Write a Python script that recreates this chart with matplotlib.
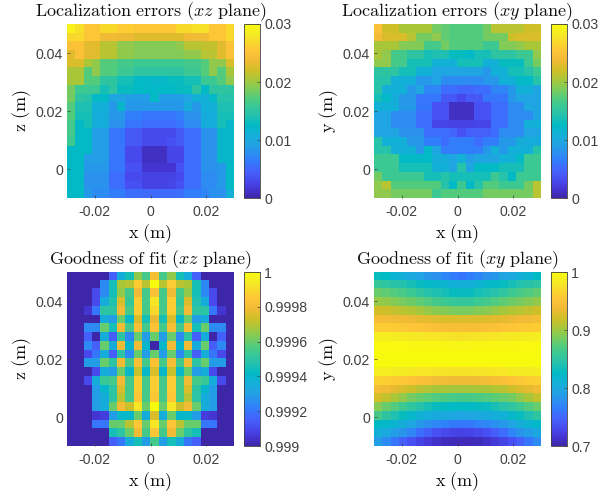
import matplotlib
matplotlib.use('Agg')
import numpy as np
import matplotlib.pyplot as plt
from matplotlib.colors import LinearSegmentedColormap

# errors in mm, rows listed top to bottom
err_xz = [
    [29, 27.5, 25.5, 25.5, 27, 27, 26, 26, 25.5, 25.5, 25.5, 25.5, 25.5, 27, 27, 27.5, 27.5, 25.5, 25.5, 27],
    [27, 27, 25.5, 25.5, 24, 24, 23.5, 23.5, 22.8, 22.8, 22.8, 22.8, 22.8, 22.8, 24, 24, 24, 25.5, 25.5, 27],
    [25, 25, 23, 23, 21, 21, 19.5, 19.5, 19, 19, 19, 19, 19, 19.5, 21, 21, 21.5, 21.5, 23, 25],
    [23, 25, 23, 23, 21, 21, 19.5, 19.5, 19, 19, 19, 19, 19, 19, 19.5, 19.5, 21, 21, 23, 25],
    [22.5, 22.5, 20.5, 19.5, 17.2, 17.2, 16.5, 16.5, 16, 16, 16, 16, 16, 16, 16.5, 16.5, 17.2, 19.5, 19.5, 22.5],
    [20.5, 20.5, 17.2, 19.5, 17.2, 17.2, 16, 16, 15, 15, 15, 15, 15, 15, 16, 16, 17.2, 19.5, 17.2, 20.5],
    [20.5, 20.5, 17.2, 17.2, 15, 15, 13.5, 13.5, 12.5, 12.5, 12, 12, 13, 13, 13.5, 13.5, 16, 16, 17.2, 19.5],
    [18.5, 16, 16, 16, 13.5, 15, 13, 13, 12.5, 12.5, 12.5, 12.5, 12.5, 13, 13, 15, 12.5, 15, 15, 15],
    [18.5, 15, 14.5, 12.5, 12.5, 9.5, 9.5, 9, 9, 9, 12.5, 9, 9, 9, 9.5, 11, 11, 12.5, 14.5, 14.5],
    [17.2, 14, 14, 11, 11, 8.5, 12, 8.5, 8.5, 8.5, 8.5, 8.5, 8.5, 8.5, 10.5, 8.5, 11, 11, 14, 14],
    [17.2, 13.5, 13.5, 10.5, 10.5, 8.5, 8.5, 6.5, 6.5, 6, 6, 6, 6, 6.5, 8, 8, 10.5, 10.5, 13.5, 13.5],
    [16.5, 12.5, 13.5, 10.5, 10.5, 8, 8, 6, 6, 5.5, 5.5, 5.5, 5.5, 6, 7.5, 7.5, 10.5, 10.5, 13.5, 12],
    [16.5, 12.5, 12.5, 9, 9, 6, 6, 4, 4, 3, 3, 3, 3, 4, 5.5, 5.5, 8, 8, 12, 12],
    [16, 12.5, 12.5, 9, 9, 6, 6, 4, 4, 3, 3, 3, 3.4, 4, 5.5, 5.5, 8, 8, 12, 12],
    [12.5, 12.5, 12.5, 9, 9, 6, 6, 3, 3, 1, 1, 1, 2.8, 2.8, 5.5, 5.5, 8, 8, 12, 12],
    [12.5, 12.5, 9, 9, 9, 6, 6, 3, 3, 1, 1, 1, 2.8, 2.8, 5.5, 5.5, 8, 8, 12, 12],
    [12.5, 12.5, 8.5, 8.5, 8.5, 6, 6, 3.4, 3.4, 1.5, 1.5, 1.5, 1.5, 3.4, 5.5, 5.5, 8, 8, 8.5, 12.5],
    [12.5, 12.5, 8, 8, 8, 5.5, 5.5, 3, 3, 2.5, 2.5, 2.5, 2.5, 3, 5.5, 5.5, 7.5, 7.5, 8.5, 12.5],
    [12.5, 12.5, 8, 8, 8, 5.5, 5.5, 3.4, 3.4, 2.5, 2.5, 2.5, 2.8, 3.4, 5.5, 5.5, 7.5, 7.5, 8.5, 12.5],
    [12.5, 12.5, 8.5, 7.5, 7.5, 6.5, 6.5, 5.5, 5.5, 5.3, 5.3, 5.3, 5.3, 5.5, 6.5, 6.5, 7, 8, 8, 11],
]

err_xy = [
    [25, 22, 22, 20.5, 20.5, 20.5, 20.5, 18.5, 17.8, 17.2, 17.2, 17.2, 17.2, 18.5, 21, 21, 21, 21, 22, 22],
    [24, 22.5, 22.5, 22.5, 21, 18.5, 18.5, 19.5, 17.8, 17.2, 17.2, 17.2, 17.2, 18.5, 18.5, 18.5, 22, 22.5, 22.5, 22.5],
    [20.5, 20.5, 20.5, 19, 19, 19, 16.5, 16.5, 18.5, 17.2, 17.2, 17.2, 17.2, 16, 16, 19, 19, 19.5, 20.5, 20.5],
    [20.5, 19.5, 16.5, 16.5, 15, 15, 13.5, 14, 14, 13, 13, 12.5, 13.5, 13.5, 15, 15, 15, 16, 16, 19.5],
    [19.5, 19.5, 16.5, 16.5, 13.5, 13.5, 13.5, 11, 11, 11, 13.5, 13.5, 13.5, 11, 11, 13, 13, 13, 16, 18.5],
    [15, 15, 15, 13.5, 13.5, 11, 11, 9.5, 9.5, 9.5, 9.5, 9.5, 9.5, 8.5, 11, 11, 13.5, 13.5, 14.5, 16],
    [14.5, 14.5, 11, 11, 11, 8.5, 8.5, 9.5, 7.5, 7.5, 7.5, 7.5, 7.5, 8.5, 8.5, 11, 11, 12.5, 12.5, 14.5],
    [14.5, 11, 11, 11, 8.5, 9.5, 7, 7, 5.5, 5.5, 5, 5, 5.5, 5.5, 7, 7, 8.5, 11, 11, 9.5],
    [13.5, 12.5, 10.5, 8.5, 8.5, 6, 6, 6, 4, 4, 3, 4, 4, 6, 6, 6, 8.5, 9.5, 9.5, 9.5],
    [11, 11, 11, 8.5, 8.5, 6, 6, 3.4, 3.4, 1, 1, 1, 3.4, 3.4, 5.5, 5.5, 7.5, 7.5, 9.5, 9.5],
    [9.5, 9.5, 7.5, 7.5, 7.5, 5.5, 5.5, 3.4, 3.4, 1, 1, 1, 3.4, 3.4, 5.5, 5.5, 7.5, 7.5, 7.5, 9.5],
    [9.5, 9.5, 7.5, 7.5, 7.5, 5.5, 5.5, 2.8, 2.8, 2.5, 2.5, 2.5, 2.8, 2.8, 5.5, 5.5, 7.5, 7.5, 11, 11],
    [9.5, 9.5, 9.5, 8, 8, 8, 5.5, 5.5, 5.5, 5, 3.4, 4.5, 4.5, 4.5, 5.5, 7.5, 7.5, 7.5, 9.5, 9.5],
    [14.5, 11, 11, 11, 8.5, 8.5, 6.5, 6.5, 5.5, 6.5, 6.5, 6.5, 5.5, 6.5, 6.5, 8.5, 8.5, 10.5, 10.5, 10.5],
    [14.5, 14.5, 11, 11, 11, 8.5, 12.5, 9.5, 6.5, 6.5, 6.5, 6.5, 6.5, 8.5, 11, 8.5, 11, 11, 11, 14.5],
    [16, 16, 16, 12.5, 12.5, 12.5, 12.5, 10.5, 10.5, 9.5, 11, 9, 9.5, 9.5, 9.5, 11, 11, 12.5, 16, 16],
    [16, 16, 16, 13.5, 13.5, 13.5, 13.5, 11, 11, 9.5, 14.5, 9.5, 12.5, 12.5, 12.5, 13.5, 13.5, 13.5, 16, 16],
    [18.5, 16, 16, 16, 16, 16, 13.5, 13.5, 14.5, 13.5, 13.5, 13.5, 13.5, 13.5, 16, 14.5, 12.5, 16, 16, 16],
    [19.5, 21, 17.2, 17.2, 17.2, 17.2, 17.2, 17.2, 14.5, 12.5, 16, 12.5, 14.5, 17.2, 17.2, 16, 16, 16, 18.5, 21],
    [19.5, 19.5, 18.5, 18.5, 18.5, 18.5, 18.5, 16, 17.2, 17.2, 17.2, 17.2, 17.2, 18.5, 18.5, 18.5, 18.5, 18.5, 18.5, 21],
]

# goodness of fit above 0.999, in units of 1e-4
fit_xz = [
    [0, 0, 0, 0, 0, 1.5, 3.5, 4.5, 6.5, 5.5, 8.2, 5.5, 6.5, 4.5, 3.5, 1.5, 0, 0, 0, 0],
    [0, 0, 0, 0, 2.5, 4.5, 6.8, 7, 8.7, 7, 10, 7, 8.7, 7, 6.8, 4.5, 2.5, 0, 0, 0],
    [0, 0, 0, 1, 2.5, 4.5, 6.5, 5.5, 8, 5.5, 8.3, 5.5, 8, 5.5, 6.5, 4.5, 2.5, 1, 0, 0],
    [0, 0, 0, 1, 3.5, 4.7, 7.5, 5.2, 8.7, 5.5, 9.3, 5.5, 8.7, 5.2, 7.5, 4.7, 3.5, 1, 0, 0],
    [0, 0, 0.5, 2, 5, 5, 8, 5.5, 8.7, 5.5, 9, 5.5, 8.7, 5.5, 8, 5, 5, 2, 0.5, 0],
    [0, 0, 0, 0, 3.5, 3, 6, 4, 7.5, 4.5, 7.8, 4.5, 7.5, 4, 6, 3, 3.5, 0, 0, 0],
    [0, 0, 2.5, 2.5, 6, 4.5, 8, 5.5, 8.2, 5.5, 8.3, 5.5, 8.2, 5.5, 8, 4.5, 6, 2.5, 2.5, 0],
    [0, 0, 1.5, 0, 3.5, 1.5, 5, 2.5, 6, 3, 6, 3, 6, 2.5, 5, 1.5, 3.5, 0, 1.5, 0],
    [0, 0, 2.5, 1.5, 6, 3.5, 8, 4, 8, 4, 0, 4, 8, 4, 8, 3.5, 6, 1.5, 2.5, 0],
    [0, 0, 1, 2, 3.5, 1.5, 5, 2.5, 6, 3, 6, 3, 6, 2.5, 5, 1.5, 3.5, 2, 1, 0],
    [0, 0, 3, 3, 6, 5, 8, 5.5, 8.2, 5.5, 8.3, 5.5, 8.2, 5.5, 8, 5, 6, 3, 3, 0],
    [0, 0, 0, 1, 3.5, 3, 6, 4, 7.2, 4, 7.5, 4, 7.2, 4, 6, 3, 3.5, 1, 0, 0],
    [0, 0, 1, 3.5, 5.3, 5.5, 8, 5.5, 8.7, 5.5, 8.7, 5.5, 8.7, 5.5, 8, 5.5, 5.3, 3.5, 1, 0],
    [0, 0, 0, 3, 4, 5, 7.5, 5.5, 8.7, 5.5, 8.7, 5.5, 8.7, 5.5, 7.5, 5, 4, 3, 0, 0],
    [0, 0, 0, 3, 3.5, 5, 7, 5.5, 8.5, 5.5, 8.5, 5.5, 8.5, 5.5, 7, 5, 3.5, 3, 0, 0],
    [0, 0, 0, 3, 3.5, 6, 8, 7.3, 9.3, 6, 10, 6, 9.3, 7.3, 8, 6, 3.5, 3, 0, 0],
    [0, 0, 0, 0.5, 0.7, 3, 4, 4, 6, 3.5, 7.5, 3.5, 6, 4, 4, 3, 0.7, 0.5, 0, 0],
    [0, 0, 0, 2, 2, 6, 6, 7, 8.5, 6, 9.3, 6, 8.5, 7, 6, 6, 2, 2, 0, 0],
    [0, 0, 0, 0, 0, 4.5, 5, 6, 8, 5.5, 8.5, 5.5, 8, 6, 5, 4.5, 0, 0, 0, 0],
    [0, 0, 0, 0, 0, 1.5, 2, 3.5, 4.5, 3, 5.5, 3, 4.5, 3.5, 2, 1.5, 0, 0, 0, 0],
]

fit_xy = [
    [.829, .826, .815, .808, .800, .795, .785, .780, .772, .765, .760, .765, .772, .780, .785, .795, .800, .808, .815, .826],
    [.856, .852, .846, .842, .836, .830, .824, .820, .815, .810, .808, .810, .815, .820, .824, .830, .836, .842, .846, .852],
    [.880, .876, .870, .866, .860, .852, .845, .840, .835, .830, .829, .830, .835, .840, .845, .852, .860, .866, .870, .876],
    [.898, .896, .890, .886, .882, .876, .870, .865, .860, .857, .856, .857, .860, .865, .870, .876, .882, .886, .890, .896],
    [.922, .920, .915, .912, .908, .903, .898, .893, .890, .887, .886, .887, .890, .893, .898, .903, .908, .912, .915, .920],
    [.943, .942, .940, .938, .935, .932, .930, .928, .926, .925, .925, .925, .926, .928, .930, .932, .935, .938, .940, .942],
    [.961, .960, .958, .956, .954, .952, .950, .948, .947, .946, .946, .946, .947, .948, .950, .952, .954, .956, .958, .960],
    [.985, .985, .984, .983, .982, .981, .980, .979, .978, .977, .976, .977, .978, .979, .980, .981, .982, .983, .984, .985],
    [.997, .997, .997, .997, .996, .996, .996, .996, .996, .995, .995, .995, .996, .996, .996, .996, .996, .997, .997, .997],
    [1, 1, 1, 1, 1, 1, .999, .999, .999, .999, .999, .999, .999, .999, .999, 1, 1, 1, 1, 1],
    [1, 1, 1, 1, 1, 1, .999, .999, .999, .999, .999, .999, .999, .999, .999, 1, 1, 1, 1, 1],
    [.985, .985, .984, .983, .982, .980, .979, .978, .978, .977, .977, .977, .978, .978, .979, .980, .982, .983, .984, .985],
    [.964, .962, .960, .956, .952, .948, .945, .942, .941, .940, .940, .940, .941, .942, .945, .948, .952, .956, .960, .962],
    [.943, .940, .932, .925, .918, .912, .908, .905, .904, .903, .903, .903, .904, .905, .908, .912, .918, .925, .932, .940],
    [.922, .915, .905, .895, .885, .880, .875, .870, .868, .866, .865, .866, .868, .870, .875, .880, .885, .895, .905, .915],
    [.892, .880, .870, .860, .852, .845, .836, .830, .828, .826, .826, .826, .828, .830, .836, .845, .852, .860, .870, .880],
    [.865, .850, .840, .830, .820, .812, .806, .802, .799, .797, .796, .797, .799, .802, .806, .812, .820, .830, .840, .850],
    [.826, .822, .815, .805, .795, .785, .778, .772, .768, .762, .760, .762, .768, .772, .778, .785, .795, .805, .815, .822],
    [.808, .800, .790, .782, .770, .755, .745, .735, .730, .726, .724, .726, .730, .735, .745, .755, .770, .782, .790, .800],
    [.790, .775, .760, .745, .735, .725, .718, .712, .708, .706, .706, .706, .708, .712, .718, .725, .735, .745, .760, .775],
]

titles = ['Localization\\ errors', 'Localization\\ errors', 'Goodness\\ of\\ fit', 'Goodness\\ of\\ fit']
planes = ['xz', 'xy', 'xz', 'xy']
ylabels = ['z', 'y', 'z', 'y']
x_ticks = [-0.02, 0, 0.02]
x_labels = ['-0.02', '0', '0.02']
y_ticks = [0, 0.02, 0.04]
y_labels = ['0', '0.02', '0.04']

parula = LinearSegmentedColormap.from_list('parula', [
    (0.2422, 0.1504, 0.6603), (0.2706, 0.2147, 0.8364), (0.2813, 0.3006, 0.9414),
    (0.2699, 0.3892, 0.9906), (0.1963, 0.4847, 0.9892), (0.1687, 0.5703, 0.9359),
    (0.1248, 0.6459, 0.8883), (0.0689, 0.6948, 0.8394), (0.0067, 0.7312, 0.7660),
    (0.1408, 0.7584, 0.6842), (0.2161, 0.7843, 0.5923), (0.3406, 0.8008, 0.4789),
    (0.5044, 0.7993, 0.3480), (0.6720, 0.7793, 0.2227), (0.8203, 0.7498, 0.1535),
    (0.9393, 0.7288, 0.2100), (0.9970, 0.7659, 0.2199), (0.9786, 0.8422, 0.1764),
    (0.9597, 0.9270, 0.1380), (0.9763, 0.9831, 0.0538),
], N=256)

plt.rcParams['font.family'] = ['Liberation Sans', 'DejaVu Sans']
plt.rcParams['mathtext.fontset'] = 'cm'

W, H = 600, 498
fig = plt.figure(figsize=(W / 100, H / 100), dpi=100)


def add_panel(left, top, data, vmin, vmax, title, plane, ylab, cticks, clabels):
    ax = fig.add_axes([left / W, 1 - (top + 174) / H, 167 / W, 174 / H])
    im = ax.imshow(data, cmap=parula, vmin=vmin, vmax=vmax, aspect='auto',
                   extent=(-0.03, 0.03, -0.01, 0.05), interpolation='nearest')
    ax.set_xticks(x_ticks, x_labels)
    ax.set_yticks(y_ticks, y_labels)
    ax.tick_params(direction='in', length=2, width=0.5, labelsize=10.2,
                   labelcolor='#404040', color='#404040', pad=3)
    ax.tick_params(axis='x', pad=5)
    for s in ax.spines.values():
        s.set_visible(False)
    ax.set_title(r'$\mathrm{%s}\ (%s\ \mathrm{plane})$' % (title, plane),
                 fontsize=13, pad=6, color='#111111')
    ax.set_xlabel(r'$\mathrm{x\ (m)}$', fontsize=13, labelpad=2.5, color='#111111')
    ax.set_ylabel(r'$\mathrm{%s\ (m)}$' % ylab, fontsize=13, labelpad=2, color='#111111')

    cax = fig.add_axes([(left + 177) / W, 1 - (top + 174) / H, 16 / W, 174 / H])
    cb = fig.colorbar(im, cax=cax)
    cb.set_ticks(cticks, labels=clabels)
    cb.ax.tick_params(direction='in', length=2, width=0.5, labelsize=10.2,
                      labelcolor='#404040', color='#404040', pad=3)
    cb.outline.set_edgecolor('#404040')
    cb.outline.set_linewidth(0.6)


add_panel(67, 24, np.array(err_xz) * 1e-3, 0, 0.03, titles[0], planes[0], ylabels[0],
          [0, 0.01, 0.02, 0.03], ['0', '0.01', '0.02', '0.03'])
add_panel(374, 24, np.array(err_xy) * 1e-3, 0, 0.03, titles[1], planes[1], ylabels[1],
          [0, 0.01, 0.02, 0.03], ['0', '0.01', '0.02', '0.03'])
add_panel(67, 272, 0.999 + np.array(fit_xz) * 1e-4, 0.999, 1, titles[2], planes[2], ylabels[2],
          [0.999, 0.9992, 0.9994, 0.9996, 0.9998, 1],
          ['0.999', '0.9992', '0.9994', '0.9996', '0.9998', '1'])
add_panel(374, 272, np.array(fit_xy), 0.7, 1, titles[3], planes[3], ylabels[3],
          [0.7, 0.8, 0.9, 1], ['0.7', '0.8', '0.9', '1'])

fig.savefig('out.png', dpi=100)
